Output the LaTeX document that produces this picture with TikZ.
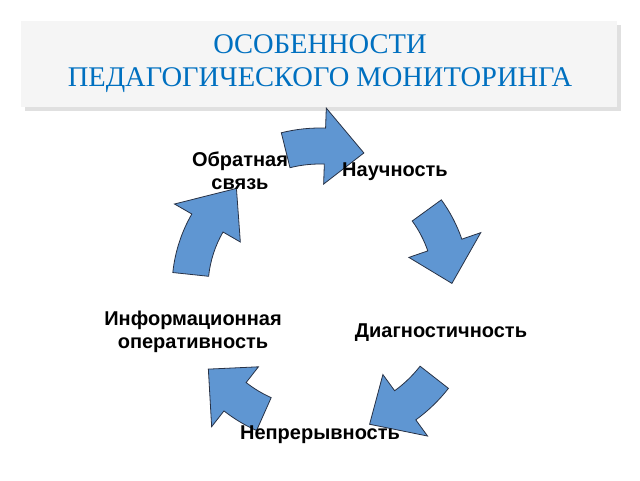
\documentclass[tikz,border=0pt]{standalone}
\usepackage{fontspec}
\setmainfont{Liberation Sans}
\newfontfamily\titlefont{Liberation Serif}
\definecolor{ttl}{RGB}{0,112,192}
\definecolor{arw}{RGB}{95,150,210}
\definecolor{arwl}{RGB}{40,50,70}
\newcommand{\cyclearrow}[5]{% start, body end, tip, R, name
  \path[arrowshape] ($(#1:#4+18) $) arc[start angle=#1,end angle=#2,radius=#4+18]
   -- (#2:#4+38) -- (#3:#4) -- (#2:#4-38) -- (#2:#4-18)
   arc[start angle=#2,end angle=#1,radius=#4-18] -- cycle;}
\usetikzlibrary{calc}
\begin{document}
\begin{tikzpicture}[x=1pt,y=-1pt,
  arrowshape/.style={fill=arw,draw=arwl,line width=0.8pt,line join=miter},
  lbl/.style={font=\bfseries\fontsize{20}{23}\selectfont,align=center,inner sep=0pt}]
\useasboundingbox (0,0) rectangle (640,480);
\fill[white] (0,0) rectangle (640,480);
\fill[black!12] (25,25) rectangle (621,111);
\fill[black!4] (21,21) rectangle (617,107);
\node[font=\titlefont\fontsize{28.5}{33}\selectfont,text=ttl,align=center] (title) at (320,64) {ОСОБЕННОСТИ\\ПЕДАГОГИЧЕСКОГО МОНИТОРИНГА};
\begin{scope}[shift={(320,288)}]
\cyclearrow{-104}{-88}{-72}{142}{a1}
\cyclearrow{-36}{-19}{-2}{132}{a2}
\cyclearrow{38}{54}{70}{145}{a3}
\cyclearrow{114}{128}{144}{138}{a4}
\cyclearrow{186}{210}{230}{130}{a5}
\end{scope}
\node[lbl] (n1) at (240,171) {Обратная\\связь};
\node[lbl] (n2) at (395,172) {Научность};
\node[lbl] (n3) at (441,333) {Диагностичность};
\node[lbl] (n4) at (320,435) {Непрерывность};
\node[lbl] (n5) at (193,332) {Информационная\\оперативность};
\end{tikzpicture}
\end{document}
